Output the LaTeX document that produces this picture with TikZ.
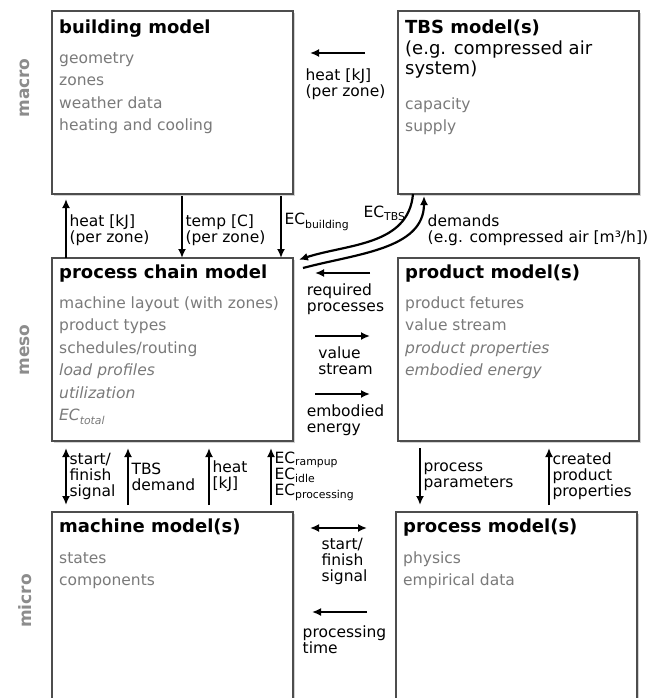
\documentclass[tikz,border=0pt]{standalone}
\usepackage{fontspec}
\setmainfont{DejaVu Sans}
\usetikzlibrary{
    arrows.meta,
    positioning,
    shadows
}
\definecolor{boxline}{HTML}{4D4D4D}
\definecolor{bodytext}{HTML}{7A7A7A}
\definecolor{levelgray}{HTML}{8C8C8C}
\newcommand{\boxtitle}[1]{{\fontsize{18}{20}\selectfont\bfseries\color{black}#1}}
\newcommand{\boxnote}[1]{{\fontsize{18}{20}\selectfont\color{black}#1}}
\newcommand{\ecsub}[1]{EC\textsubscript{#1}}

\begin{document}
\begin{tikzpicture}[
    model/.style = {
        draw=boxline,
        line width=1.4pt,
        fill=white,
        rectangle,
        inner sep=0pt,
        outer sep=0pt,
        minimum width=241pt,
        minimum height=183pt,
        drop shadow={shadow xshift=2pt, shadow yshift=-2pt, opacity=0.35}
    },
    content/.style = {
        anchor=north west,
        align=left,
        inner sep=0pt,
        text=bodytext,
        font=\fontsize{15.5}{22.5}\selectfont
    },
    level/.style = {
        rotate=90,
        text=levelgray,
        font=\fontsize{17}{20}\selectfont\bfseries
    },
    lbl/.style = {
        align=left,
        inner sep=2.5pt,
        font=\fontsize{15.5}{16}\selectfont
    },
    flow/.style = {
        line width=2.2pt,
        -{Latex[length=9pt,width=8pt]}
    },
    both/.style = {
        line width=2.2pt,
        {Latex[length=9pt,width=8pt]}-{Latex[length=9pt,width=8pt]}
    },
]
    \useasboundingbox (0,0) rectangle (668pt,-698pt);
    \clip (0,0) rectangle (668pt,-698pt);

    % Model boxes
    \node [model, anchor=north west] (bld) at (52pt,-11pt) {};
    \node [model, right=105pt of bld] (tbs) {};
    \node [model, below=64pt of bld] (pcm) {};
    \node [model, right=105pt of pcm] (prd) {};
    \node [model, below=71pt of pcm, minimum height=200pt] (mch) {};
    \node [model, right=103pt of mch, minimum height=200pt] (prc) {};

    \node [level] (macro) at ([shift={(-27pt,-77pt)}]bld.north west) {macro};
    \node [level] (meso) at ([shift={(-27pt,-92pt)}]pcm.north west) {meso};
    \node [level] (micro) at ([shift={(-27pt,-89pt)}]mch.north west) {micro};

    % Box contents
    \node [content] (bld_txt) at ([shift={(7pt,-9pt)}]bld.north west)
        {\boxtitle{building model}\\[7pt]
        geometry\\
        zones\\
        weather data\\
        heating and cooling};

    \node [content] (tbs_txt) at ([shift={(7pt,-9pt)}]tbs.north west)
        {\boxtitle{TBS model(s)}\\[-2pt]
        \boxnote{(e.g. compressed air}\\[-2pt]
        \boxnote{system)}\\[12pt]
        capacity\\
        supply};

    \node [content] (pcm_txt) at ([shift={(7pt,-7pt)}]pcm.north west)
        {\boxtitle{process chain model}\\[7pt]
        machine layout (with zones)\\
        product types\\
        schedules/routing\\
        \textit{load profiles}\\
        \textit{utilization}\\
        \textit{EC\textsubscript{total}}};

    \node [content] (prd_txt) at ([shift={(7pt,-7pt)}]prd.north west)
        {\boxtitle{product model(s)}\\[7pt]
        product fetures\\
        value stream\\
        \textit{product properties}\\
        \textit{embodied energy}};

    \node [content] (mch_txt) at ([shift={(7pt,-7pt)}]mch.north west)
        {\boxtitle{machine model(s)}\\[8pt]
        states\\
        components};

    \node [content] (prc_txt) at ([shift={(7pt,-7pt)}]prc.north west)
        {\boxtitle{process model(s)}\\[8pt]
        physics\\
        empirical data};

    % macro <-> meso
    \draw [flow, shorten >=5pt] ([xshift=14pt]pcm.north west)
        -- node [lbl, right, yshift=-4pt] {heat [kJ]\\(per zone)}
        ([xshift=14pt]bld.south west);
    \draw [flow, shorten <=2pt] ([xshift=130pt]bld.south west)
        -- node [lbl, right, yshift=-4pt] {temp [C]\\(per zone)}
        ([xshift=130pt]pcm.north west);
    \draw [flow, shorten <=2pt] ([xshift=-12pt]bld.south east)
        -- node [lbl, right, yshift=4pt] {\ecsub{building}}
        ([xshift=-12pt]pcm.north east);

    \draw [flow, shorten <=33pt, shorten >=17pt] ([yshift=-42pt]tbs.north west)
        -- node [lbl, below=12pt] {heat [kJ]\\(per zone)}
        ([yshift=-42pt]bld.north east);

    \draw [flow, shorten >=1pt] ([xshift=15pt]tbs.south west)
        to [out=-95, in=18] node [lbl, pos=0.12, anchor=east, yshift=-3pt] {\ecsub{TBS}}
        ([shift={(5pt,-2pt)}]pcm.north east);
    \draw [flow, shorten >=2pt] ([shift={(10pt,-10pt)}]pcm.north east)
        to [out=15, in=-90] ([xshift=26pt]tbs.south west);
    \node [lbl, anchor=north west] (demand_lbl) at ([shift={(27pt,-18pt)}]tbs.south west)
        {demands\\(e.g. compressed air [m³/h])};

    % meso
    \draw [flow, shorten <=28pt, shorten >=22pt] ([yshift=-15pt]prd.north west)
        -- node [lbl, below=7pt] {required\\processes}
        ([yshift=-15pt]pcm.north east);
    \draw [flow, shorten <=22pt, shorten >=28pt] ([yshift=-78pt]pcm.north east)
        -- node [lbl, below=7pt] {value\\stream}
        ([yshift=-78pt]prd.north west);
    \draw [flow, shorten <=22pt, shorten >=28pt] ([yshift=-136pt]pcm.north east)
        -- node [lbl, below=7pt] {embodied\\energy}
        ([yshift=-136pt]prd.north west);

    % meso <-> micro
    \draw [both, shorten <=7pt, shorten >=7pt] ([xshift=14pt]pcm.south west)
        -- node [lbl, right] {start/\\finish\\signal}
        ([xshift=14pt]mch.north west);
    \draw [flow, shorten <=7pt, shorten >=7pt] ([xshift=76pt]mch.north west)
        -- node [lbl, right] {TBS\\demand}
        ([xshift=76pt]pcm.south west);
    \draw [flow, shorten <=7pt, shorten >=7pt] ([xshift=157pt]mch.north west)
        -- node [lbl, right] {heat\\{[kJ]}}
        ([xshift=157pt]pcm.south west);
    \draw [flow, shorten <=7pt, shorten >=7pt] ([xshift=219pt]mch.north west)
        -- node [lbl, right] {\ecsub{rampup}\\\ecsub{idle}\\\ecsub{processing}}
        ([xshift=219pt]pcm.south west);

    \draw [flow, shorten <=7pt, shorten >=7pt] ([xshift=22pt]prd.south west)
        -- node [lbl, right] {process\\parameters}
        ([xshift=24pt]prc.north west);
    \draw [flow, shorten <=7pt, shorten >=7pt] ([xshift=153pt]prc.north west)
        -- node [lbl, right] {created\\product\\properties}
        ([xshift=151pt]prd.south west);

    % micro
    \draw [both, shorten <=17pt, shorten >=29pt] ([yshift=-16pt]mch.north east)
        -- node [lbl, below=7pt] {start/\\finish\\signal}
        ([yshift=-16pt]prc.north west);
    \draw [flow, shorten <=29pt, shorten >=19pt] ([yshift=-100pt]prc.north west)
        -- node [lbl, below=10pt] {processing\\time}
        ([yshift=-100pt]mch.north east);
\end{tikzpicture}
\end{document}
